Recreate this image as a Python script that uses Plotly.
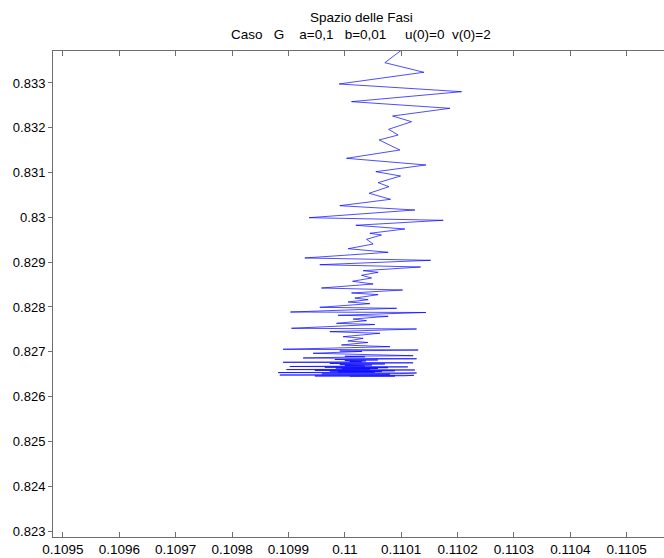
import plotly.graph_objects as go

# Phase-space trajectory (u, v)
u_vals = [
    0.1101242, 0.1100710, 0.1101402, 0.1099899, 0.1102071, 0.1100119, 0.1101864, 0.1100847,
    0.1101184, 0.1100776, 0.1100946, 0.1100609, 0.1100976, 0.1100030, 0.1101438, 0.1100550,
    0.1100989, 0.1100591, 0.1100781, 0.1100431, 0.1100811, 0.1099911, 0.1101242, 0.1099366,
    0.1101745, 0.1100195, 0.1101065, 0.1100444, 0.1100651, 0.1100385, 0.1100502, 0.1100059,
    0.1100769, 0.1099290, 0.1101521, 0.1099556, 0.1101344, 0.1100325, 0.1100591, 0.1100296,
    0.1100474, 0.1100137, 0.1100502, 0.1099586, 0.1101024, 0.1100119, 0.1100591, 0.1100178,
    0.1100414, 0.1100059, 0.1100444, 0.1099556, 0.1100918, 0.1099036, 0.1101438, 0.1099881,
    0.1100769, 0.1100147, 0.1100385, 0.1099853, 0.1100532, 0.1099054, 0.1101273, 0.1099734,
    0.1100621, 0.1099970, 0.1100325, 0.1100053, 0.1100408, 0.1099941, 0.1100799, 0.1098905,
    0.1101301,
    0.1099911, 0.1100302, 0.1099437, 0.1101212, 0.1100000, 0.1100355, 0.1099260, 0.1101273,
    0.1099822, 0.1100586, 0.1100000, 0.1100373, 0.1100089, 0.1100302, 0.1098905, 0.1101212,
    0.1099734, 0.1100710, 0.1099911, 0.1100479, 0.1100000, 0.1100355, 0.1099024, 0.1101118,
    0.1099645, 0.1100763, 0.1099840, 0.1100586, 0.1099947, 0.1100444, 0.1098965, 0.1101242,
    0.1099468, 0.1100888, 0.1099734, 0.1100657, 0.1099876, 0.1100532, 0.1098816, 0.1101273,
    0.1099290, 0.1100976, 0.1099592, 0.1100799, 0.1099822, 0.1100710, 0.1098846, 0.1101225,
    0.1099166, 0.1101065, 0.1099468, 0.1100888, 0.1099911, 0.1100621, 0.1100089,
]
v_vals = [
    0.833960, 0.833453, 0.833239, 0.832978, 0.832806, 0.832583, 0.832435, 0.832263,
    0.832136, 0.831966, 0.831839, 0.831728, 0.831504, 0.831319, 0.831170, 0.831020,
    0.830924, 0.830775, 0.830685, 0.830538, 0.830404, 0.830261, 0.830165, 0.829993,
    0.829935, 0.829824, 0.829741, 0.829645, 0.829607, 0.829511, 0.829406, 0.829301,
    0.829221, 0.829094, 0.829042, 0.828944, 0.828893, 0.828810, 0.828775, 0.828708,
    0.828647, 0.828574, 0.828513, 0.828424, 0.828379, 0.828313, 0.828275, 0.828199,
    0.828163, 0.828112, 0.828074, 0.827993, 0.827971, 0.827888, 0.827877, 0.827815,
    0.827792, 0.827732, 0.827694, 0.827636, 0.827609, 0.827525, 0.827509, 0.827449,
    0.827413, 0.827337, 0.827301, 0.827241, 0.827208, 0.827152, 0.827114, 0.827056,
    0.827040,
    0.827018, 0.827007, 0.826967, 0.826913, 0.826900, 0.826888, 0.826862, 0.826844,
    0.826828, 0.826817, 0.826804, 0.826795, 0.826783, 0.826777, 0.826766, 0.826754,
    0.826739, 0.826728, 0.826714, 0.826703, 0.826692, 0.826683, 0.826672, 0.826663,
    0.826654, 0.826645, 0.826636, 0.826627, 0.826618, 0.826612, 0.826603, 0.826594,
    0.826585, 0.826576, 0.826567, 0.826558, 0.826551, 0.826545, 0.826536, 0.826527,
    0.826520, 0.826513, 0.826507, 0.826500, 0.826493, 0.826489, 0.826482, 0.826475,
    0.826469, 0.826464, 0.826460, 0.826458, 0.826455, 0.826453, 0.826453,
]

x_ticks = [0.1095, 0.1096, 0.1097, 0.1098, 0.1099, 0.1100, 0.1101, 0.1102, 0.1103, 0.1104, 0.1105]
x_labels = ["0.1095", "0.1096", "0.1097", "0.1098", "0.1099", "0.11",
            "0.1101", "0.1102", "0.1103", "0.1104", "0.1105"]
y_ticks = [0.823, 0.824, 0.825, 0.826, 0.827, 0.828, 0.829, 0.830, 0.831, 0.832, 0.833]
y_labels = ["0.823", "0.824", "0.825", "0.826", "0.827", "0.828",
            "0.829", "0.83", "0.831", "0.832", "0.833"]

x_range = [0.1094823, 0.1105662]
y_range = [0.822866, 0.833714]

title_1 = "Spazio delle Fasi"
title_2 = "Caso\u00a0\u00a0\u00a0G\u00a0\u00a0\u00a0\u00a0a=0,1\u00a0\u00a0\u00a0b=0,01\u00a0\u00a0\u00a0\u00a0\u00a0u(0)=0\u00a0\u00a0v(0)=2"

FONT = "Liberation Sans, Arial, sans-serif"
AXC = "#6e6e6e"

fig = go.Figure()
fig.add_trace(go.Scatter(x=u_vals, y=v_vals, mode="lines",
                         line=dict(color="#0000ff", width=0.7),
                         showlegend=False, hoverinfo="skip"))
fig.add_trace(go.Scatter(x=[x_range[0]], y=[y_range[0]], xaxis="x2", mode="markers",
                         marker=dict(opacity=0), showlegend=False, hoverinfo="skip"))

fig.update_layout(
    width=664, height=558,
    margin=dict(l=53, r=0, t=51, b=21, pad=0),
    paper_bgcolor="white", plot_bgcolor="white",
    font=dict(family=FONT, size=13, color="black"),
    xaxis=dict(range=x_range, tickvals=x_ticks, ticktext=x_labels,
               showgrid=False, zeroline=False, showline=True, linecolor=AXC, linewidth=1,
               ticks="inside", ticklen=5, tickcolor=AXC, tickfont=dict(size=13.5),
               mirror=False),
    xaxis2=dict(range=x_range, tickvals=x_ticks, overlaying="x", side="top",
                showgrid=False, zeroline=False, showline=True, linecolor=AXC, linewidth=1,
                ticks="inside", ticklen=5, tickcolor=AXC, showticklabels=False),
    yaxis=dict(range=y_range, tickvals=y_ticks, ticktext=y_labels,
               showgrid=False, zeroline=False, showline=True, linecolor=AXC, linewidth=1,
               ticks="outside", ticklen=4, tickcolor=AXC, tickfont=dict(size=13),
               mirror=False),
    annotations=[
        dict(text=title_1, x=361, y=18, xref="paper", yref="paper", showarrow=False,
             font=dict(size=13.5)),
        dict(text=title_2, x=361, y=34, xref="paper", yref="paper", showarrow=False,
             font=dict(size=13.5)),
    ],
)

# place annotations in pixel terms: convert to paper coords
pw = 664 - 53
ph = 558 - 51 - 21
for a in fig.layout.annotations:
    px, py = a.x, a.y
    a.x = (px - 53) / pw
    a.y = 1 + (51 - py) / ph
    a.xanchor = "center"
    a.yanchor = "middle"

fig.write_html("out.html")
